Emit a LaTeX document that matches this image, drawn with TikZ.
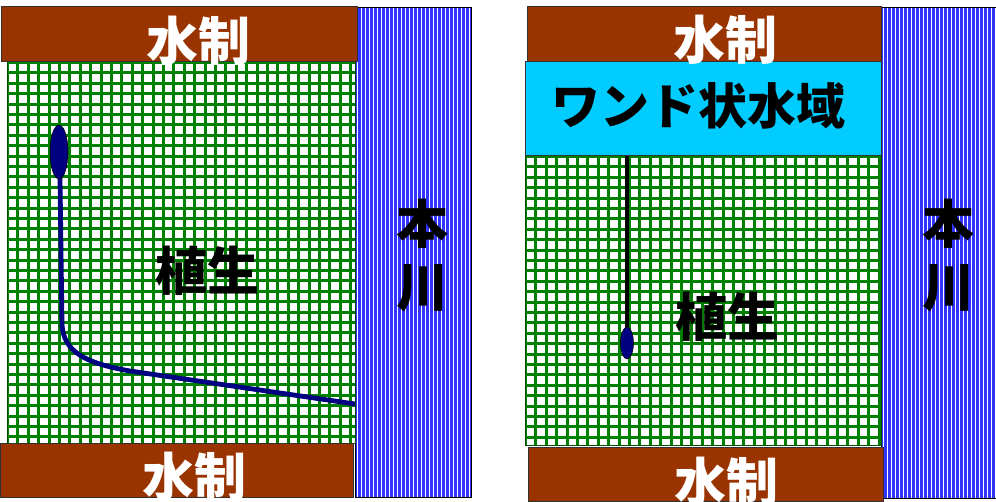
\documentclass[tikz,border=0pt]{standalone}
\usepackage{fontspec}
\newfontfamily\cjk{Noto Sans CJK JP}
\definecolor{brownbox}{RGB}{153,51,0}
\definecolor{cyanbox}{RGB}{0,204,255}
\definecolor{gridgreen}{RGB}{0,128,0}
\definecolor{riverblue}{RGB}{51,51,255}
\definecolor{navyblue}{RGB}{0,0,128}
\definecolor{edgegray}{RGB}{50,50,50}
\begin{document}
\begin{tikzpicture}[x=1pt,y=-1pt,
  groyne/.style={fill=brownbox, draw=edgegray, line width=1pt},
  pond/.style={fill=cyanbox, draw=edgegray, line width=1pt},
  gridline/.style={draw=gridgreen, line width=2.4pt},
  stripe/.style={draw=white, line width=1.3pt},
  lbl/.style={font=\cjk\bfseries\fontsize{52}{60}\selectfont, inner sep=0pt},
  whitelbl/.style={lbl, text=white},
  blacklbl/.style={lbl, text=black},
  channel/.style={draw=navyblue, line width=4.8pt},
  fish/.style={fill=navyblue, draw=black, line width=0.5pt}]
\useasboundingbox (0,0) rectangle (996,502);
\fill[white] (0,0) rectangle (996,502);

% ---------------- Left panel ----------------
% river
\fill[riverblue] (355,7) rectangle (471,497);
\foreach \i in {0,...,28} \draw[stripe] ({357.5+\i*4},7) -- ++(0,490);
\draw[black, line width=0.8pt] (355,7) rectangle (471,497);
% vegetation grid
\fill[white] (7,62) rectangle (355,443);
\begin{scope}
  \clip (7,62) rectangle (355,443);
  \foreach \i in {0,...,34} \draw[gridline] ({round(7+\i*10.4)+0.5},62) -- ++(0,381);
  \foreach \i in {0,...,37} \draw[gridline] (7,{round(62+\i*10.4)+0.5}) -- ++(348,0);
\end{scope}
\draw[gridgreen!60!black, line width=1pt] (7,62) rectangle (355,443);
% groynes
\draw[groyne] (1,7) rectangle (357,62);
\draw[groyne] (0,443) rectangle (353,497);
% channel and fish
\draw[channel] (60,178) -- (62,325) .. controls (64,352) and (85,363) .. (130,371) -- (355,404);
\draw[fish] (59,152) ellipse [x radius=9, y radius=27];
% labels
\node[whitelbl] (gL1) at (198,41) {水制};
\node[whitelbl] (gL2) at (194,477) {水制};
\node[blacklbl] (vL) at (207,271) {植生};
\node[blacklbl] (rL1) at (422,224) {本};
\node[blacklbl] (rL2) at (422,288) {川};

% ---------------- Right panel ----------------
\fill[riverblue] (881,7) rectangle (996,498);
\foreach \i in {0,...,28} \draw[stripe] ({883.5+\i*4},7) -- ++(0,491);
\draw[black, line width=0.8pt] (881,7) rectangle (996,498);
\fill[white] (525,156) rectangle (881,445);
\begin{scope}
  \clip (525,156) rectangle (881,445);
  \foreach \i in {0,...,35} \draw[gridline] ({round(525+\i*10.4)+0.5},156) -- ++(0,289);
  \foreach \i in {0,...,28} \draw[gridline] (525,{round(156+\i*10.4)+0.5}) -- ++(356,0);
\end{scope}
\draw[gridgreen!60!black, line width=1pt] (525,156) rectangle (881,445);
\draw[groyne] (527,7) rectangle (881,62);
\draw[pond] (525,62) rectangle (881,156);
\draw[groyne] (528,447) rectangle (883,501);
\coordinate (chTop) at (627,156);
\draw[black, line width=4pt] (chTop) -- (627,330);
\draw[fish] (627,343) ellipse [x radius=6.5, y radius=16];
\node[whitelbl] (gR1) at (725,40) {水制};
\node[whitelbl] (gR2) at (726,482) {水制};
\node[lbl, font=\cjk\bfseries\fontsize{49}{56}\selectfont] (pond) at (698,106) {ワンド状水域};
\node[blacklbl] (vR) at (727,317) {植生};
\node[blacklbl] (rR1) at (948,224) {本};
\node[blacklbl] (rR2) at (948,288) {川};
\end{tikzpicture}
\end{document}
